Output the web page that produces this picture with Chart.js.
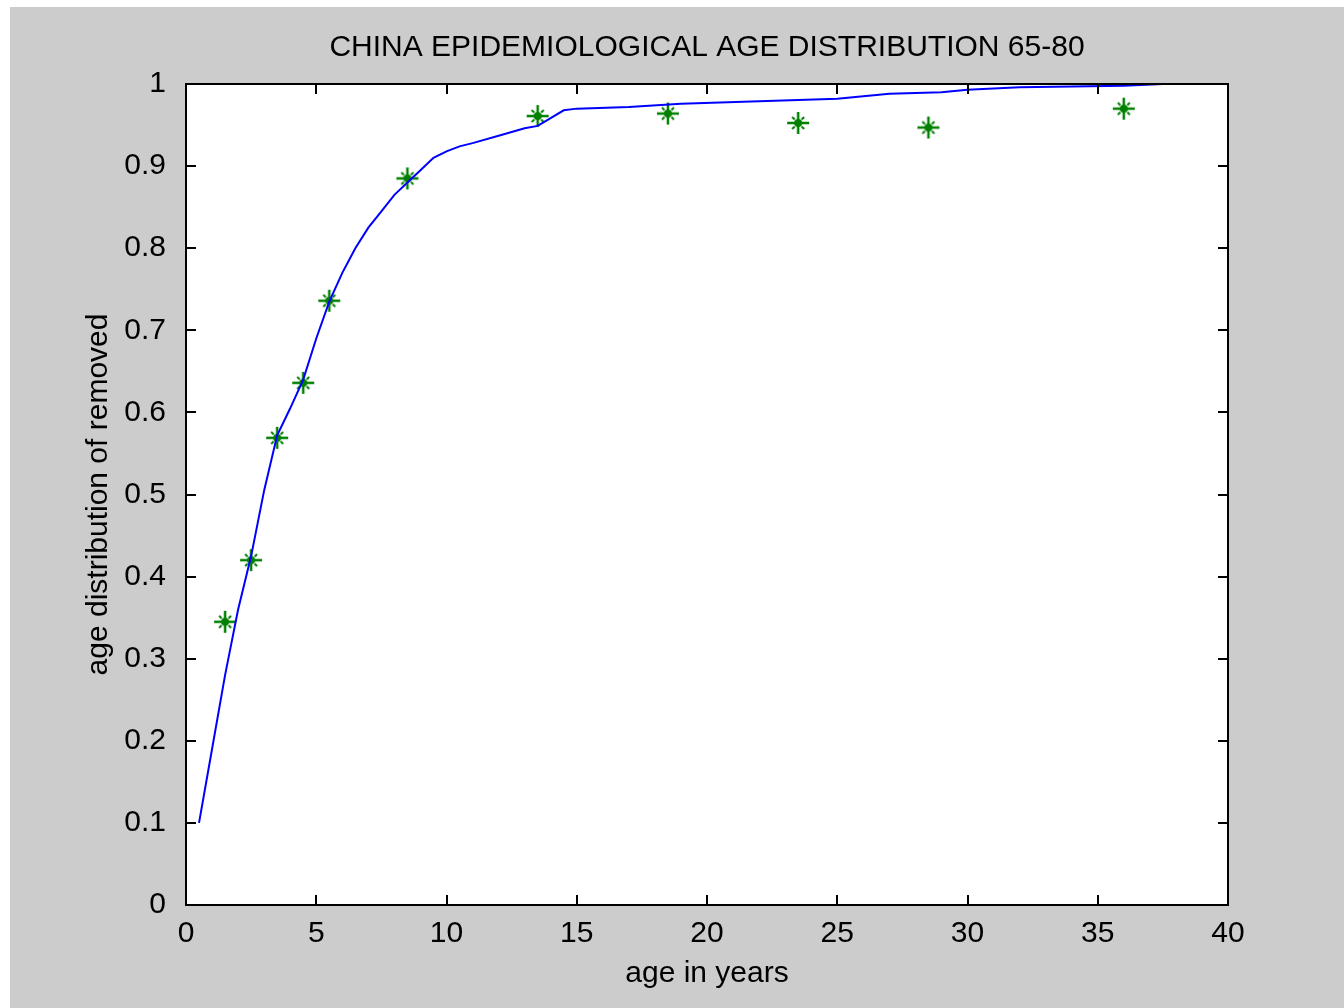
<!DOCTYPE html>
<html>
<head>
<meta charset="utf-8">
<title>China epidemiological age distribution</title>
<script src="https://cdn.jsdelivr.net/npm/chart.js@4"></script>
<style>
  html, body { margin: 0; padding: 0; background: #ffffff; }
  #wrap { position: absolute; left: 10px; top: 7px; width: 1334px; height: 1001px; background: #cccccc; }
</style>
</head>
<body>
<div id="wrap"><canvas id="myChart" width="1334" height="1001"></canvas></div>
<script>
// fitted curve (blue line)
var lineAge = [0.5, 1, 1.5, 2, 2.5, 3, 3.5, 4, 4.5, 5, 5.5, 6, 6.5, 7, 7.5, 8, 8.5, 9, 9.5, 10, 10.5, 11, 12, 13, 13.5, 14.5, 15, 17, 19, 22, 25, 26, 27, 29, 30, 32, 36, 37.5];
var lineValue = [0.10, 0.19, 0.28, 0.36, 0.425, 0.505, 0.572, 0.605, 0.64, 0.69, 0.735, 0.77, 0.80, 0.825, 0.845, 0.865, 0.88, 0.895, 0.91, 0.918, 0.924, 0.928, 0.937, 0.946, 0.949, 0.968, 0.970, 0.972, 0.976, 0.979, 0.982, 0.985, 0.988, 0.990, 0.993, 0.996, 0.998, 1.0];

// observed data (green stars)
var starAge = [1.5, 2.5, 3.5, 4.5, 5.5, 8.5, 13.5, 18.5, 23.5, 28.5, 36];
var starValue = [0.345, 0.42, 0.569, 0.636, 0.736, 0.885, 0.961, 0.964, 0.9525, 0.947, 0.97];

var xTicks = [0, 5, 10, 15, 20, 25, 30, 35, 40];
var yTicks = [0, 0.1, 0.2, 0.3, 0.4, 0.5, 0.6, 0.7, 0.8, 0.9, 1];

var FONT = 'Liberation Sans, Arial, Helvetica, sans-serif';

function xy(xs, ys) {
    return xs.map(function (x, i) { return { x: x, y: ys[i] }; });
}

// matlab style '*' marker
function makeStar() {
    var c = document.createElement('canvas');
    c.width = 26; c.height = 26;
    var g = c.getContext('2d');
    g.strokeStyle = '#008000';
    g.fillStyle = '#008000';
    g.lineWidth = 2.5;
    g.beginPath();
    g.moveTo(2, 13); g.lineTo(24, 13);
    g.moveTo(13, 2); g.lineTo(13, 24);
    g.stroke();
    g.lineWidth = 2;
    g.beginPath();
    g.moveTo(7, 7); g.lineTo(9.5, 9.5);
    g.moveTo(19, 7); g.lineTo(16.5, 9.5);
    g.moveTo(7, 19); g.lineTo(9.5, 16.5);
    g.moveTo(19, 19); g.lineTo(16.5, 16.5);
    g.stroke();
    g.beginPath();
    g.arc(13, 13, 4, 0, Math.PI * 2);
    g.fill();
    return c;
}

// white axes background + box with inward ticks
var axesBox = {
    id: 'axesBox',
    beforeDraw: function (chart) {
        var a = chart.chartArea, ctx = chart.ctx;
        ctx.save();
        ctx.fillStyle = '#ffffff';
        ctx.fillRect(a.left, a.top, a.right - a.left, a.bottom - a.top);
        ctx.restore();
    },
    afterDatasetsDraw: function (chart) {
        var a = chart.chartArea, ctx = chart.ctx;
        var sx = chart.scales.x, sy = chart.scales.y;
        var len = 10;
        ctx.save();
        ctx.strokeStyle = '#000000';
        ctx.lineWidth = 2;
        ctx.beginPath();
        xTicks.forEach(function (v) {
            var p = Math.round(sx.getPixelForValue(v));
            ctx.moveTo(p, a.bottom); ctx.lineTo(p, a.bottom - len);
            ctx.moveTo(p, a.top); ctx.lineTo(p, a.top + len);
        });
        yTicks.forEach(function (v) {
            var p = Math.round(sy.getPixelForValue(v));
            ctx.moveTo(a.left, p); ctx.lineTo(a.left + len, p);
            ctx.moveTo(a.right, p); ctx.lineTo(a.right - len, p);
        });
        ctx.stroke();
        ctx.strokeRect(a.left, a.top, a.right - a.left, a.bottom - a.top);
        ctx.restore();
    }
};

var ctx = document.getElementById('myChart').getContext('2d');
var myChart = new Chart(ctx, {
    type: 'scatter',
    data: {
        datasets: [{
            label: 'model',
            data: xy(lineAge, lineValue),
            showLine: true,
            borderColor: '#0000ff',
            borderWidth: 2,
            pointRadius: 0,
            tension: 0,
            clip: false
        }, {
            label: 'data',
            data: xy(starAge, starValue),
            showLine: false,
            pointStyle: makeStar(),
            pointRadius: 12,
            clip: false
        }]
    },
    options: {
        responsive: false,
        animation: false,
        layout: { padding: { left: 0, right: 116, top: 0, bottom: 0 } },
        plugins: {
            legend: { display: false },
            tooltip: { enabled: false },
            title: {
                display: true,
                text: 'CHINA EPIDEMIOLOGICAL AGE DISTRIBUTION 65-80',
                color: '#000000',
                fullSize: false,
                font: { family: FONT, size: 30, weight: 'normal', lineHeight: 1.2 },
                padding: { top: 23, bottom: 18 }
            }
        },
        scales: {
            x: {
                type: 'linear',
                min: 0, max: 40,
                afterFit: function (s) { s.height = 103; },
                afterBuildTicks: function (s) { s.ticks = xTicks.map(function (v) { return { value: v }; }); },
                grid: { display: false },
                border: { display: false },
                ticks: {
                    color: '#000000', padding: 3, maxRotation: 0, autoSkip: false,
                    font: { family: FONT, size: 30 },
                    callback: function (v) { return String(v); }
                },
                title: {
                    display: true, text: 'age in years', color: '#000000',
                    font: { family: FONT, size: 30, lineHeight: 1.2 },
                    padding: { top: 0, bottom: 16 }
                }
            },
            y: {
                type: 'linear',
                min: 0, max: 1,
                afterFit: function (s) { s.width = 176; },
                afterBuildTicks: function (s) { s.ticks = yTicks.map(function (v) { return { value: v }; }); },
                grid: { display: false },
                border: { display: false },
                ticks: {
                    color: '#000000', padding: 12, autoSkip: false,
                    font: { family: FONT, size: 30 },
                    callback: function (v) { return String(Number(v.toFixed(2))); }
                },
                title: {
                    display: true, text: 'age distribution of removed', color: '#000000',
                    font: { family: FONT, size: 30, lineHeight: 1.2 },
                    padding: { top: 71, bottom: 0 }
                }
            }
        }
    },
    plugins: [axesBox]
});
</script>
</body>
</html>
